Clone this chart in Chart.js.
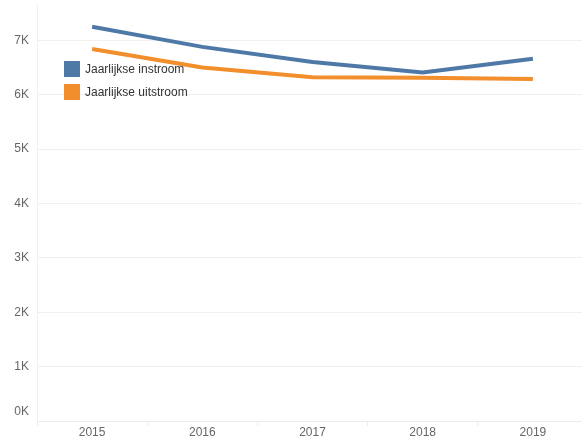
<!DOCTYPE html>
<html>
<head>
<meta charset="utf-8">
<script src="https://cdn.jsdelivr.net/npm/chart.js@4"></script>
<style>
  html, body { margin: 0; padding: 0; background: #fff; overflow: hidden; }
  #wrap { position: relative; width: 588px; height: 441px; }
  .legend { position: absolute; left: 64px; top: 61px; font: 12px "Liberation Sans", Arial, sans-serif; color: #333; }
  .legend div { display: flex; align-items: center; height: 16px; margin-bottom: 7px; }
  .legend span.box { display: inline-block; width: 16px; height: 16px; margin-right: 5px; }
</style>
</head>
<body>
<div id="wrap">
  <canvas id="myChart"></canvas>
  <div class="legend" id="legend"></div>
</div>
<script>
const ctx = document.getElementById('myChart');

// jaren en aantallen (in duizenden)
let years = ['2015', '2016', '2017', '2018', '2019']
let instroom = [7.25, 6.88, 6.60, 6.41, 6.66]
let uitstroom = [6.84, 6.50, 6.32, 6.31, 6.29]
let seriesLabels = ['Jaarlijkse instroom', 'Jaarlijkse uitstroom']
let seriesColors = ['#4e79a7', '#f28e2b']
let yTicks = [0, 1, 2, 3, 4, 5, 6, 7]

// legend in the top-left of the plot
let legendEl = document.getElementById('legend')
seriesLabels.forEach((lbl, i) => {
  legendEl.innerHTML += `<div><span class="box" style="background:${seriesColors[i]}"></span>${lbl}</div>`
})

// 0K label sits a bit above the axis line
const zeroLabel = {
  id: 'zeroLabel',
  afterDraw(chart) {
    let y = chart.scales.y
    let c = chart.ctx
    c.save()
    c.font = '12px "Liberation Sans", Arial, sans-serif'
    c.fillStyle = '#666'
    c.textAlign = 'right'
    c.textBaseline = 'middle'
    c.fillText('0K', y.right - 8, y.getPixelForValue(0) - 9)
    c.restore()
  }
}

new Chart(ctx, {
  type: 'line',
  data: {
    labels: years,
    datasets: [{
      label: seriesLabels[0],
      data: instroom,
      borderColor: seriesColors[0],
      borderWidth: 4,
      pointRadius: 0,
      tension: 0
    }, {
      label: seriesLabels[1],
      data: uitstroom,
      borderColor: seriesColors[1],
      borderWidth: 4,
      pointRadius: 0,
      tension: 0
    }]
  },
  options: {
    responsive: true,
    maintainAspectRatio: false,
    animation: false,
    layout: {
      padding: { top: 5, right: 0, bottom: 0, left: 0 }
    },
    scales: {
      x: {
        offset: true,
        grid: {
          offset: true,
          drawOnChartArea: false,
          tickLength: 5,
          color: '#ececec'
        },
        border: { color: '#ececec' },
        ticks: {
          font: { family: '"Liberation Sans", Arial, sans-serif', size: 12 },
          color: '#666',
          padding: -1,
          maxRotation: 0
        },
        afterFit(scale) { scale.height = 20 }
      },
      y: {
        min: 0,
        max: 7.65,
        afterBuildTicks(scale) {
          scale.ticks = yTicks.map(v => ({ value: v }))
        },
        grid: {
          color: '#f0f0f0',
          drawTicks: false
        },
        border: { color: '#f0f0f0' },
        ticks: {
          font: { family: '"Liberation Sans", Arial, sans-serif', size: 12 },
          color: '#666',
          padding: 8,
          callback: v => v === 0 ? '' : v + 'K'
        },
        afterFit(scale) {
          scale.width = 37
          scale.paddingTop = 0
          scale.paddingBottom = 0
        }
      }
    },
    plugins: {
      legend: { display: false },
      tooltip: { enabled: false }
    }
  },
  plugins: [zeroLabel]
});
</script>
</body>
</html>
